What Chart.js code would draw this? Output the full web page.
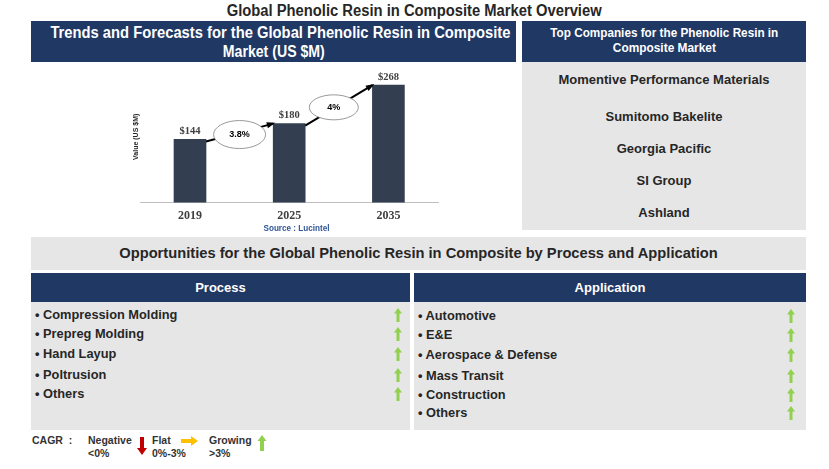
<!DOCTYPE html>
<html>
<head>
<meta charset="utf-8">
<script src="https://cdn.jsdelivr.net/npm/chart.js@4/dist/chart.umd.min.js"></script>
<style>
  body { margin: 0; width: 829px; height: 469px; background: #fff; position: relative; overflow: hidden;
         font-family: "Liberation Sans", Arial, sans-serif; color: #262626; }
  .abs { position: absolute; }
  .navy { background: #203864; color: #fff; font-weight: bold; text-align: center; }
  .gray { background: #e6e6e6; }
  .line { display: block; text-align: center; white-space: nowrap; }
  .line span { display: inline-block; transform-origin: center; }
  .item { position: absolute; font-weight: bold; font-size: 12.8px; white-space: nowrap; }
  .up { position: absolute; }
  .leg { position: absolute; font-size: 10.5px; font-weight: bold; color: #333; line-height: 13px; }
</style>
</head>
<body>
<div class="abs" style="left:0;top:1px;width:829px;font-size:16px;font-weight:bold;line-height:20px;">
  <div class="line"><span data-w="375">Global Phenolic Resin in Composite Market Overview</span></div>
</div>

<div class="abs navy" style="left:31px;top:21px;width:485px;height:41px;font-size:16px;line-height:19px;padding-top:2px;box-sizing:border-box;">
  <div class="line"><span data-w="460">Trends and Forecasts for the Global Phenolic Resin in Composite</span></div>
  <div class="line"><span data-w="102">Market (US $M)</span></div>
</div>
<div class="abs navy" style="left:522px;top:21px;width:284px;height:41px;font-size:13px;line-height:14.5px;padding-top:5px;box-sizing:border-box;">
  <div class="line"><span data-w="228">Top Companies for the Phenolic Resin in</span></div>
  <div class="line"><span data-w="103">Composite Market</span></div>
</div>

<div class="abs" style="left:31px;top:62px;width:485px;height:167px;"><canvas id="marketChart"></canvas></div>
<div class="abs" style="left:31px;top:223px;width:532px;font-size:9px;font-weight:bold;color:#2f5597;line-height:11px;">
  <div class="line"><span data-w="66">Source : Lucintel</span></div>
</div>

<div class="abs gray" id="companies" style="left:522px;top:62px;width:284px;height:168px;"></div>

<div class="abs gray" style="left:31px;top:237px;width:775px;height:33px;line-height:33px;text-align:center;font-size:14.7px;font-weight:bold;">Opportunities for the Global Phenolic Resin in Composite by Process and Application</div>

<div class="abs navy" style="left:31px;top:273px;width:379px;height:29px;line-height:29px;font-size:13px;">Process</div>
<div class="abs gray" id="process" style="left:31px;top:302px;width:379px;height:128px;"></div>
<div class="abs navy" style="left:414px;top:273px;width:392px;height:29px;line-height:29px;font-size:13px;">Application</div>
<div class="abs gray" id="application" style="left:414px;top:302px;width:392px;height:128px;"></div>

<div class="leg" style="left:32px;top:434px;">CAGR&nbsp; :</div>
<div class="leg" style="left:88px;top:434px;">Negative<br>&lt;0%</div>
<svg class="abs" style="left:136px;top:437px" width="12" height="19"><path d="M4 0 H8 V11 H11 L6 18 L1 11 H4 Z" fill="#c00000"/></svg>
<div class="leg" style="left:152px;top:434px;">Flat<br>0%-3%</div>
<svg class="abs" style="left:181px;top:435px" width="18" height="12"><path d="M0 4 H10 V1 L17 6 L10 11 V8 H0 Z" fill="#ffc000"/></svg>
<div class="leg" style="left:209px;top:434px;">Growing<br>&gt;3%</div>
<svg class="abs" style="left:257px;top:435px" width="10" height="17"><path d="M5 0 L9.5 6 H7 V16 H3 V6 H0.5 Z" fill="#92d050"/></svg>

<script>
// chart data
const years = ["2019", "2025", "2035"];
const marketValues = [144, 180, 268];
const cagrLabels = ["3.8%", "4%"];

// side panels
const companies = ["Momentive Performance Materials", "Sumitomo Bakelite", "Georgia Pacific", "SI Group", "Ashland"];
const companyTops = [10, 47, 79, 111, 143];
const processItems = ["Compression Molding", "Prepreg Molding", "Hand Layup", "Poltrusion", "Others"];
const processTops = [5, 24, 44, 65, 84];
const applicationItems = ["Automotive", "E&E", "Aerospace & Defense", "Mass Transit", "Construction", "Others"];
const applicationTops = [6, 25, 45, 66, 85, 103];

// squeeze text to the narrow widths of the original
document.querySelectorAll("[data-w]").forEach(el => {
  const w = el.getBoundingClientRect().width;
  el.style.transform = "scaleX(" + (el.dataset.w / w) + ")";
});

const upArrow = '<svg width="8" height="15"><path d="M4 0 L8 5.5 H5.5 V14 H2.5 V5.5 H0 Z" fill="#92d050"/></svg>';

function fillList(id, items, tops, arrowLeft) {
  const box = document.getElementById(id);
  items.forEach((txt, i) => {
    const d = document.createElement("div");
    d.className = "item";
    d.style.left = "4px";
    d.style.top = tops[i] + "px";
    d.textContent = "\u2022 " + txt;
    box.appendChild(d);
    const a = document.createElement("div");
    a.className = "up";
    a.style.left = arrowLeft + "px";
    a.style.top = (tops[i] + 1) + "px";
    a.innerHTML = upArrow;
    box.appendChild(a);
  });
}
fillList("process", processItems, processTops, 363);
fillList("application", applicationItems, applicationTops, 373);

const compBox = document.getElementById("companies");
companies.forEach((c, i) => {
  const d = document.createElement("div");
  d.className = "item";
  d.style.fontSize = "13px";
  d.style.left = "0";
  d.style.width = "284px";
  d.style.textAlign = "center";
  d.style.top = companyTops[i] + "px";
  d.textContent = c;
  compBox.appendChild(d);
});

// labels, cagr bubbles and arrows on top of the bars
const annotate = {
  id: "annotate",
  afterDatasetsDraw(chart) {
    const ctx = chart.ctx;
    const bars = chart.getDatasetMeta(0).data;
    ctx.save();
    for (let i = 0; i < bars.length - 1; i++) {
      const a = bars[i], b = bars[i + 1];
      const x1 = a.x + a.width / 2, y1 = a.y + 2;
      const x2 = b.x - b.width / 2, y2 = b.y;
      ctx.strokeStyle = "#000";
      ctx.fillStyle = "#000";
      ctx.lineWidth = 2;
      ctx.beginPath();
      ctx.moveTo(x1, y1);
      ctx.lineTo(x2, y2);
      ctx.stroke();
      const ang = Math.atan2(y2 - y1, x2 - x1);
      ctx.beginPath();
      ctx.moveTo(x2 + 2, y2 - 1);
      ctx.lineTo(x2 - 7 * Math.cos(ang - 0.45), y2 - 7 * Math.sin(ang - 0.45));
      ctx.lineTo(x2 - 7 * Math.cos(ang + 0.45), y2 - 7 * Math.sin(ang + 0.45));
      ctx.closePath();
      ctx.fill();
      const cx = (x1 + x2) / 2 - (i === 0 ? 0 : 5), cy = (y1 + y2) / 2 + 2;
      const rx = i === 0 ? 26 : 24.5, ry = i === 0 ? 14 : 12.5;
      ctx.beginPath();
      ctx.ellipse(cx, cy, rx, ry, 0, 0, Math.PI * 2);
      ctx.fillStyle = "#fff";
      ctx.fill();
      ctx.lineWidth = 0.8;
      ctx.strokeStyle = "#7f7f7f";
      ctx.stroke();
      ctx.fillStyle = "#000";
      ctx.font = "bold 9px 'Liberation Sans', sans-serif";
      ctx.textAlign = "center";
      ctx.textBaseline = "middle";
      ctx.fillText(cagrLabels[i], cx, cy);
    }
    // value labels
    ctx.fillStyle = "#404040";
    ctx.font = "bold 10.5px 'Liberation Serif', serif";
    ctx.textAlign = "center";
    ctx.textBaseline = "bottom";
    bars.forEach((bar, i) => {
      ctx.fillText("$" + marketValues[i], bar.x, bar.y - 3);
    });
    ctx.restore();
  }
};

new Chart(document.getElementById("marketChart"), {
  type: "bar",
  data: {
    labels: years,
    datasets: [{
      data: marketValues,
      backgroundColor: "#333f50",
      barThickness: 32
    }]
  },
  options: {
    responsive: true,
    maintainAspectRatio: false,
    animation: false,
    layout: { padding: { left: 101, right: 78, top: 9, bottom: 0 } },
    plugins: { legend: { display: false }, tooltip: { enabled: false } },
    scales: {
      x: {
        grid: { display: false, drawTicks: false },
        border: { display: true, color: "#bfbfbf", width: 1 },
        ticks: { color: "#404040", padding: 6, font: { family: "'Liberation Serif', serif", weight: "bold", size: 12 } }
      },
      y: {
        min: 0, max: 300,
        grid: { display: false, drawTicks: false },
        border: { display: false },
        ticks: { display: false },
        title: {
          display: true, text: "Value (US $M)", color: "#262626",
          font: { family: "'Liberation Sans', sans-serif", weight: "bold", size: 7 },
          padding: 0
        }
      }
    }
  },
  plugins: [annotate]
});
</script>
</body>
</html>
